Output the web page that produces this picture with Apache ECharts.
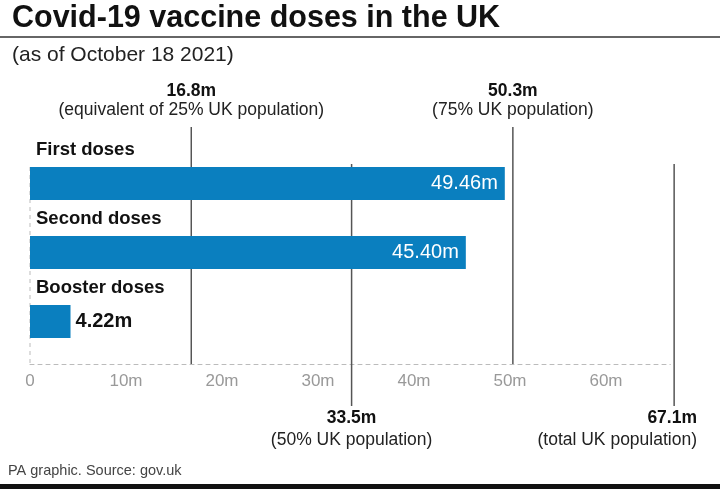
<!DOCTYPE html>
<html>
<head>
<meta charset="utf-8">
<script src="https://cdn.jsdelivr.net/npm/echarts@6/dist/echarts.min.js"></script>
<style>
html,body{margin:0;padding:0;background:#fff;}
#chart{width:720px;height:489px;}
</style>
</head>
<body>
<div id="chart"></div>
<script>
// ---- data ----
var categories = ['First doses', 'Second doses', 'Booster doses'];
var doseValues = [49.46, 45.40, 4.22];
var valueLabels = ['49.46m', '45.40m', '4.22m'];
var refValues = [16.8, 33.5, 50.3, 67.1];
var refTitles = ['16.8m', '33.5m', '50.3m', '67.1m'];
var refNotes = ['(equivalent of 25% UK population)', '(50% UK population)', '(75% UK population)', '(total UK population)'];
var tickValues = [0, 10, 20, 30, 40, 50, 60];
var tickLabels = ['0', '10m', '20m', '30m', '40m', '50m', '60m'];

var FONT = '"Liberation Sans", Arial, sans-serif';
var BLUE = '#0a7fbf';
var chart = echarts.init(document.getElementById('chart'));

var valueData = doseValues.map(function (v, i) {
  var inside = v > 20;
  return {
    value: v,
    label: {
      show: true,
      position: inside ? 'insideRight' : 'right',
      distance: inside ? 7 : 5,
      color: inside ? '#fff' : '#111',
      fontWeight: inside ? 'normal' : 'bold',
      fontSize: 20,
      fontFamily: FONT,
      formatter: valueLabels[i]
    }
  };
});

var option = {
  animation: false,
  backgroundColor: '#fff',
  title: [
    { text: 'Covid-19 vaccine doses in the UK', left: 12, top: 3, padding: 0,
      textStyle: { fontFamily: FONT, fontSize: 30.5, fontWeight: 'bold', color: '#111' } },
    { text: '(as of October 18 2021)', left: 12, top: 45, padding: 0,
      textStyle: { fontFamily: FONT, fontSize: 21, fontWeight: 'normal', color: '#222' } },
    { text: 'PA graphic. Source: gov.uk', left: 8, top: 463, padding: 0,
      textStyle: { fontFamily: FONT, fontSize: 14.5, fontWeight: 'normal', color: '#444' } }
  ],
  graphic: [
    { type: 'line', shape: { x1: 0, y1: 37, x2: 720, y2: 37 }, style: { stroke: '#333', lineWidth: 1.5 } },
    { type: 'rect', shape: { x: 0, y: 484, width: 720, height: 6 }, style: { fill: '#111' } }
  ],
  grid: { left: 30, right: 49.7, top: 149, height: 207, containLabel: false },
  xAxis: {
    type: 'value', min: 0, max: 66.7, interval: 10, offset: 8,
    axisLine: { show: true, lineStyle: { color: '#bbb', type: [4, 4], width: 1 } },
    axisTick: { show: false },
    splitLine: { show: false },
    axisLabel: {
      margin: 9, color: '#999', fontSize: 17, fontFamily: FONT,
      showMaxLabel: false,
      formatter: function (v) {
        var i = tickValues.indexOf(v);
        return i >= 0 ? tickLabels[i] : '';
      }
    }
  },
  yAxis: {
    type: 'category', inverse: true, data: categories,
    axisLine: { show: false }, axisTick: { show: false }, axisLabel: { show: false }
  },
  series: [
    {
      type: 'custom', z: 1, silent: true, clip: false,
      data: [[0]],
      renderItem: function (params, api) {
        var x = api.coord([api.value(0), 0])[0];
        return { type: 'line', shape: { x1: x, y1: 167, x2: x, y2: 364 },
          style: { stroke: '#bbb', lineWidth: 1, lineDash: [4, 4] } };
      }
    },
    {
      type: 'custom', z: 2, silent: true, clip: false,
      data: refValues.map(function (v) { return [v]; }),
      renderItem: function (params, api) {
        var i = params.dataIndex;
        var x = api.coord([api.value(0), 0])[0];
        var above = i % 2 === 0;
        var last = i === refValues.length - 1;
        var y1 = above ? 127 : 164;
        var y2 = above ? 364 : 406;
        var ty = above ? 91 : 418;
        var ny = above ? 110 : 440;
        var tx = last ? 697 : x;
        var al = last ? 'right' : 'center';
        return {
          type: 'group',
          children: [
            { type: 'line', shape: { x1: x, y1: y1, x2: x, y2: y2 },
              style: { stroke: '#555', lineWidth: 1.5 } },
            { type: 'text', style: { text: refTitles[i], x: tx, y: ty, textAlign: al, textVerticalAlign: 'middle',
              font: 'bold 17.5px ' + FONT, fill: '#111' } },
            { type: 'text', style: { text: refNotes[i], x: tx, y: ny, textAlign: al, textVerticalAlign: 'middle',
              font: '17.5px ' + FONT, fill: '#222' } }
          ]
        };
      }
    },
    {
      type: 'bar', z: 3, barWidth: 33,
      data: valueData,
      itemStyle: { color: BLUE }
    },
    {
      type: 'bar', z: 4, barWidth: 33, barGap: '-100%',
      data: doseValues,
      itemStyle: { color: 'rgba(0,0,0,0)' },
      label: {
        show: true, position: [6, -17], align: 'left', verticalAlign: 'middle',
        formatter: '{b}', color: '#111', fontSize: 18.5, fontWeight: 'bold', fontFamily: FONT
      }
    }
  ]
};
chart.setOption(option);
</script>
</body>
</html>
